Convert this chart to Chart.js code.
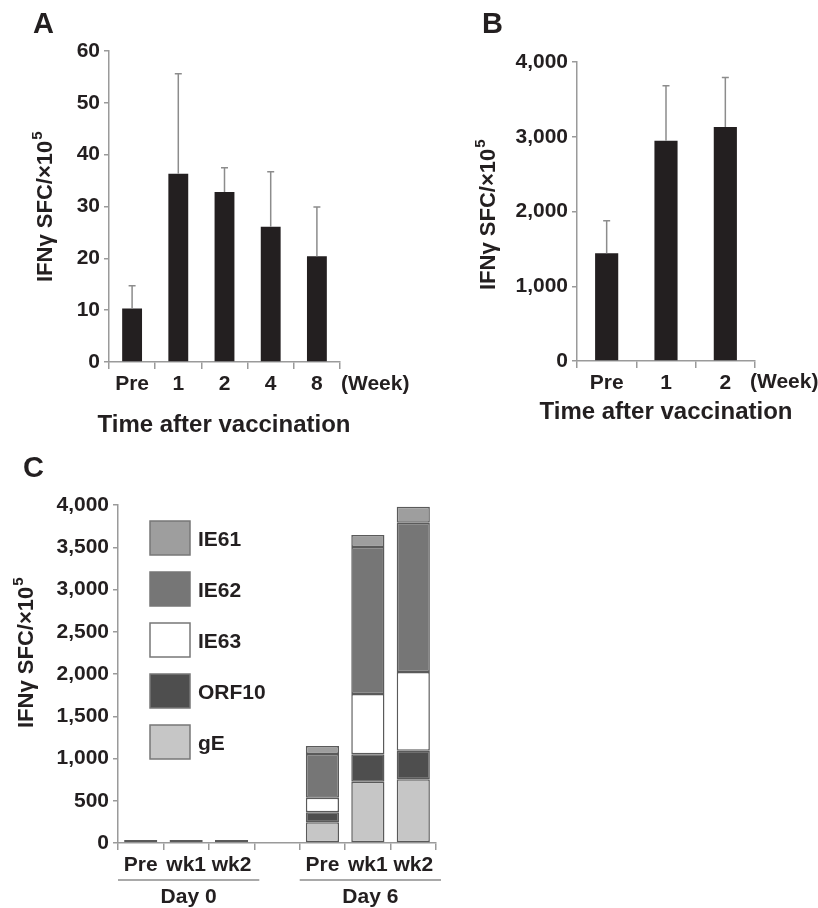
<!DOCTYPE html>
<html>
<head>
<meta charset="utf-8">
<script src="https://cdn.jsdelivr.net/npm/chart.js@4.4.1/dist/chart.umd.min.js"></script>
<style>
  body { margin: 0; background: #fff; }
  #page { position: relative; width: 818px; height: 908px; }
  canvas { position: absolute; }
</style>
</head>
<body>
<div id="page">
  <canvas id="chartA" width="410" height="440" style="left:0;top:0"></canvas>
  <canvas id="chartB" width="408" height="440" style="left:410px;top:0"></canvas>
  <canvas id="chartC" width="818" height="468" style="left:0;top:440px"></canvas>
</div>
<script>
// Panel A: IFNg SFC per 10^5 over time
const weeksA = ["Pre", "1", "2", "4", "8"];
const meanA = [10.3, 36.3, 32.8, 26.1, 20.4];
const sdA = [4.4, 19.3, 4.7, 10.6, 9.5];

// Panel B
const weeksB = ["Pre", "1", "2"];
const meanB = [1440, 2945, 3132];
const sdB = [436, 736, 661];

// Panel C: stacked by antigen
const samplesC = ["Pre", "wk1", "wk2", "", "Pre", "wk1", "wk2"];
const groupsC = ["Day 0", "Day 6"];
const gE = [null, null, null, null, 245, 726, 754];
const orf10 = [25, 25, 25, null, 118, 323, 338];
const ie63 = [null, null, null, null, 173, 714, 932];
const ie62 = [10, 10, 10, null, 517, 1740, 1767];
const ie61 = [null, null, null, null, 95, 142, 189];

const INK = "#231f20";
const AXIS = "#9a9a9a";
const FONT = "'Liberation Sans', Arial, sans-serif";

Chart.defaults.font.family = FONT;
Chart.defaults.font.weight = "bold";
Chart.defaults.font.size = 21;
Chart.defaults.color = INK;
Chart.defaults.animation = false;

// extra text, error bars, group lines and legend
const decor = {
    id: "decor",
    afterDraw(chart, args, o) {
        const ctx = chart.ctx;
        const x = chart.scales.x, y = chart.scales.y;
        ctx.save();
        ctx.fillStyle = INK;
        ctx.textBaseline = "alphabetic";

        // panel letter
        ctx.font = `bold 29px ${FONT}`;
        ctx.textAlign = "left";
        ctx.fillText(o.letter[0], o.letter[1], o.letter[2]);

        // y title with superscript 5
        ctx.save();
        ctx.translate(o.yTitle[0], o.yTitle[1]);
        ctx.rotate(-Math.PI / 2);
        ctx.font = `bold 22px ${FONT}`;
        const main = "IFNγ SFC/×10";
        ctx.fillText(main, 0, 0);
        const w = ctx.measureText(main).width;
        ctx.font = `bold 15px ${FONT}`;
        ctx.fillText("5", w + 1, -10);
        ctx.restore();

        // x title and unit
        if (o.xTitle) {
            ctx.font = `bold 24px ${FONT}`;
            ctx.textAlign = "center";
            ctx.fillText(o.xTitle[0], o.xTitle[1], o.xTitle[2]);
        }
        if (o.unit) {
            ctx.font = `bold 21px ${FONT}`;
            ctx.textAlign = "left";
            ctx.fillText("(Week)", o.unit[0], o.unit[1]);
        }

        // error bars (upper only)
        if (o.errors) {
            const meta = chart.getDatasetMeta(0);
            const vals = chart.data.datasets[0].data;
            ctx.strokeStyle = "#8c8c8c";
            ctx.lineWidth = 1.5;
            meta.data.forEach((bar, i) => {
                const top = y.getPixelForValue(vals[i] + o.errors[i]);
                ctx.beginPath();
                ctx.moveTo(bar.x, bar.y);
                ctx.lineTo(bar.x, top);
                ctx.moveTo(bar.x - 3.5, top);
                ctx.lineTo(bar.x + 3.5, top);
                ctx.stroke();
            });
        }

        // group lines under categories
        if (o.groups) {
            const half = (x.getPixelForValue(1) - x.getPixelForValue(0)) / 2;
            ctx.strokeStyle = "#8c8c8c";
            ctx.lineWidth = 1.5;
            ctx.font = `bold 21px ${FONT}`;
            ctx.textAlign = "center";
            o.groups.forEach((g) => {
                const l = x.getPixelForValue(g.from) - half;
                const r = x.getPixelForValue(g.to) + half + 5;
                ctx.beginPath();
                ctx.moveTo(l, o.groupLineY);
                ctx.lineTo(r, o.groupLineY);
                ctx.stroke();
                ctx.fillText(g.label, (l + r) / 2, o.groupLineY + 23);
            });
        }

        // legend boxes
        if (o.legend) {
            const ds = chart.data.datasets.slice().reverse();
            ctx.font = `bold 21px ${FONT}`;
            ctx.textAlign = "left";
            ds.forEach((d, i) => {
                const cy = o.legend.y + i * o.legend.step;
                ctx.fillStyle = d.backgroundColor;
                ctx.fillRect(o.legend.x, cy - 17, 40, 34);
                ctx.strokeStyle = "#777";
                ctx.lineWidth = 1.5;
                ctx.strokeRect(o.legend.x, cy - 17, 40, 34);
                ctx.fillStyle = INK;
                ctx.fillText(d.label, o.legend.x + 48, cy + 8);
            });
        }
        ctx.restore();
    }
};

function axes(yMax, yStep, yWidth, xHeight, fmt) {
    return {
        x: {
            grid: { drawOnChartArea: false, color: AXIS, lineWidth: 1.5, tickLength: 7, offset: true },
            border: { color: AXIS, width: 1.5 },
            ticks: { padding: 3, maxRotation: 0 },
            afterFit: (s) => { s.height = xHeight; }
        },
        y: {
            min: 0,
            max: yMax,
            grid: { drawOnChartArea: false, color: AXIS, lineWidth: 1.5, tickLength: 5 },
            border: { color: AXIS, width: 1.5 },
            ticks: { stepSize: yStep, padding: 4, callback: fmt },
            afterFit: (s) => { s.width = yWidth; }
        }
    };
}

const comma = (v) => v.toLocaleString("en-US");

new Chart(document.getElementById("chartA"), {
    type: "bar",
    data: {
        labels: weeksA,
        datasets: [{ data: meanA, backgroundColor: INK, categoryPercentage: 1, barPercentage: 0.43 }]
    },
    options: {
        responsive: false,
        layout: { padding: { left: 0, top: 51, right: 70, bottom: 0 } },
        plugins: {
            legend: { display: false },
            tooltip: { enabled: false },
            decor: {
                letter: ["A", 33, 33],
                yTitle: [52, 282],
                xTitle: ["Time after vaccination", 224, 432],
                unit: [341, 390],
                errors: sdA
            }
        },
        scales: axes(60, 10, 109, 78, (v) => v)
    },
    plugins: [decor]
});

new Chart(document.getElementById("chartB"), {
    type: "bar",
    data: {
        labels: weeksB,
        datasets: [{ data: meanB, backgroundColor: INK, categoryPercentage: 1, barPercentage: 0.39 }]
    },
    options: {
        responsive: false,
        layout: { padding: { left: 0, top: 62, right: 63, bottom: 0 } },
        plugins: {
            legend: { display: false },
            tooltip: { enabled: false },
            decor: {
                letter: ["B", 72, 33],
                yTitle: [85, 290],
                xTitle: ["Time after vaccination", 256, 419],
                unit: [340, 388],
                errors: sdB
            }
        },
        scales: axes(4000, 1000, 167, 79, comma)
    },
    plugins: [decor]
});

const stackStyle = { borderColor: "#5a5a5a", borderWidth: 1.5, borderSkipped: false, categoryPercentage: 1, barPercentage: 0.73 };

new Chart(document.getElementById("chartC"), {
    type: "bar",
    data: {
        labels: samplesC,
        datasets: [
            { label: "gE", data: gE, backgroundColor: "#c6c6c6", ...stackStyle },
            { label: "ORF10", data: orf10, backgroundColor: "#4e4e4e", ...stackStyle },
            { label: "IE63", data: ie63, backgroundColor: "#ffffff", ...stackStyle },
            { label: "IE62", data: ie62, backgroundColor: "#767676", ...stackStyle },
            { label: "IE61", data: ie61, backgroundColor: "#9e9e9e", ...stackStyle }
        ]
    },
    options: {
        responsive: false,
        layout: { padding: { left: 0, top: 65, right: 382, bottom: 0 } },
        plugins: {
            legend: { display: false },
            tooltip: { enabled: false },
            decor: {
                letter: ["C", 23, 37],
                yTitle: [33, 288],
                groups: [
                    { label: groupsC[0], from: 0, to: 2 },
                    { label: groupsC[1], from: 4, to: 6 }
                ],
                groupLineY: 440,
                legend: { x: 150, y: 98, step: 51 }
            }
        },
        scales: (() => {
            const s = axes(4000, 500, 118, 65, comma);
            s.x.stacked = true;
            s.y.stacked = true;
            return s;
        })()
    },
    plugins: [decor]
});
</script>
</body>
</html>
